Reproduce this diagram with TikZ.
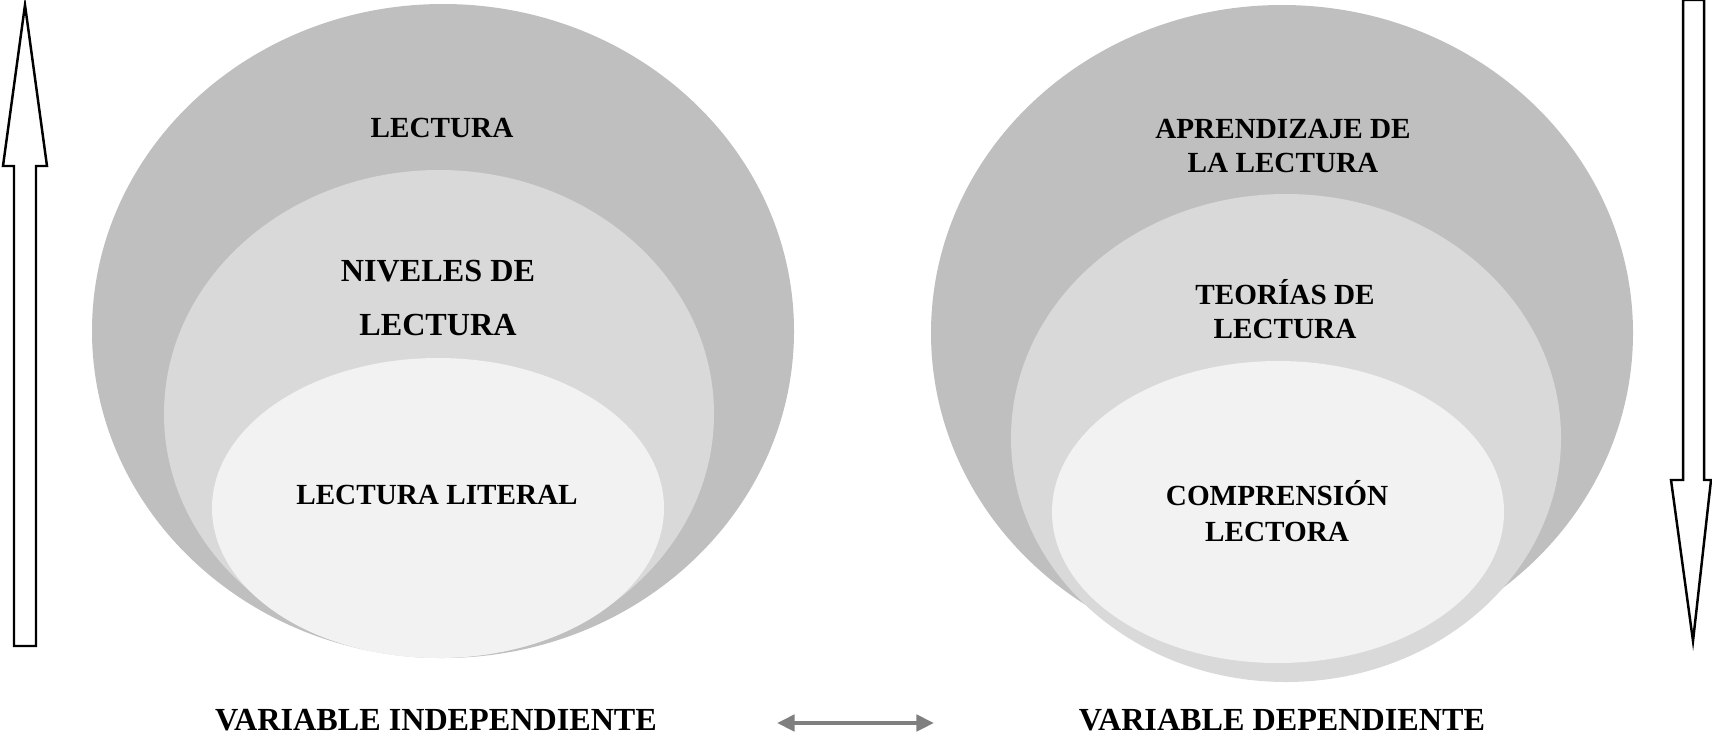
\documentclass[tikz,border=0pt]{standalone}
\usepackage{fontspec}
\setmainfont{Liberation Serif}
\usetikzlibrary{arrows.meta}

\definecolor{outergray}{HTML}{BFBFBF}
\definecolor{midgray}{HTML}{D9D9D9}
\definecolor{innergray}{HTML}{F2F2F2}
\definecolor{linkgray}{HTML}{7F7F7F}

\tikzset{
  lbl/.style={font=\fontsize{8.3}{9.6}\selectfont\bfseries, align=center, inner sep=0pt},
  biglbl/.style={lbl, font=\fontsize{9.15}{10.5}\selectfont\bfseries},
  blockarrow/.style={draw=black, line width=0.7pt, fill=white, line join=miter},
  link/.style={draw=linkgray, line width=1.15pt, {Triangle[length=5pt,width=4.6pt]}-{Triangle[length=5pt,width=4.6pt]}}
}

\begin{document}
\begin{tikzpicture}[x=0.01cm, y=-0.01cm]
  \useasboundingbox (0,0) rectangle (1712,736);

  % left block of ellipses
  \fill[outergray] (443,331) ellipse [x radius=351, y radius=327];
  \fill[midgray] (439,414) ellipse [x radius=275, y radius=244];
  \fill[innergray] (438,508) ellipse [x radius=226, y radius=150];

  % right block of ellipses
  \fill[outergray] (1282,333) ellipse [x radius=351, y radius=328];
  \fill[midgray] (1286,438) ellipse [x radius=275, y radius=244];
  \fill[innergray] (1278,512) ellipse [x radius=226, y radius=151];

  % texts inside
  \node[lbl] (lect) at (442,128) {LECTURA};
  \node[biglbl] (niv) at (438,298) {NIVELES DE\\[5pt]LECTURA};
  \node[lbl] (lit) at (437,495) {LECTURA LITERAL};
  \node[lbl] (apr) at (1283,146) {APRENDIZAJE DE\\LA LECTURA};
  \node[lbl] (teo) at (1285,309) {TEOR\'IAS DE\\LECTURA};
  \node[lbl] (comp) at (1277,511) {COMPRENSI\'ON\\[0.5pt]LECTORA};

  % variables
  \node[biglbl] (vi) at (436,720) {VARIABLE INDEPENDIENTE};
  \node[biglbl] (vd) at (1282,720) {VARIABLE DEPENDIENTE};
  \coordinate (la) at (777,723);
  \coordinate (ra) at (934,723);
  \draw[link] (la) -- (ra);

  % side arrows
  \draw[blockarrow] (25,5) -- (47,166) -- (36,166) -- (36,646) -- (14,646)
    -- (14,166) -- (3,166) -- cycle;
  \draw[blockarrow] (1683,0) -- (1704,0) -- (1704,480) -- (1711,480)
    -- (1693,641) -- (1671,480) -- (1683,480) -- cycle;
\end{tikzpicture}
\end{document}
